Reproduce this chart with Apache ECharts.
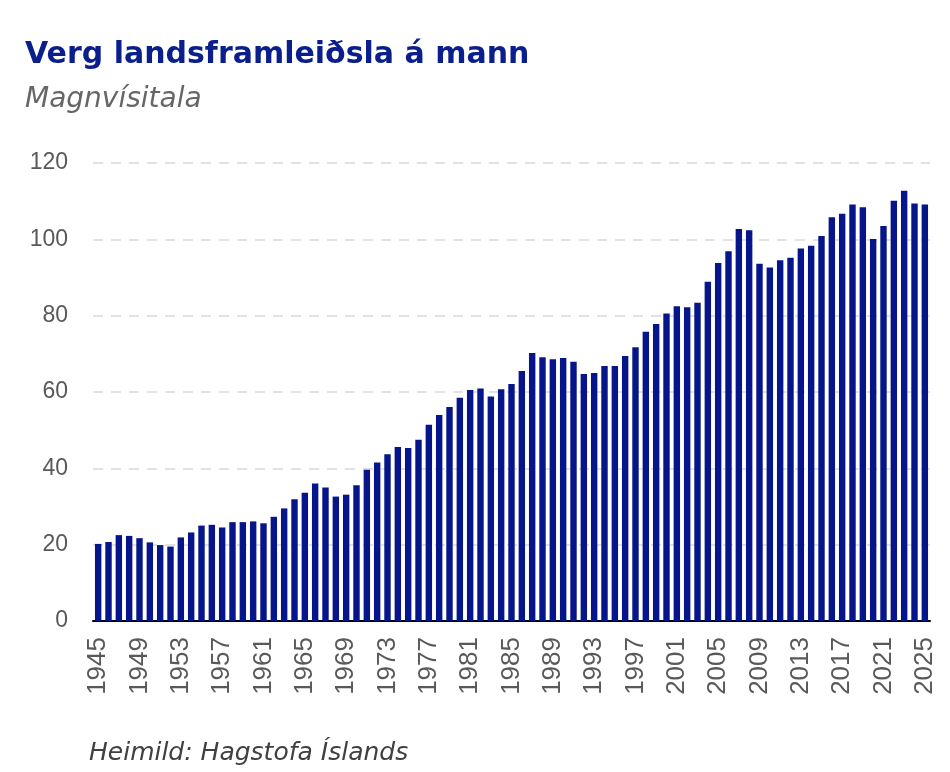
<!DOCTYPE html>
<html>
<head>
<meta charset="utf-8">
<script src="https://cdn.jsdelivr.net/npm/echarts@6/dist/echarts.min.js"></script>
<style>
  html, body { margin: 0; padding: 0; background: #fff; }
  #chart { width: 950px; height: 772px; }
</style>
</head>
<body>
<div id="chart"></div>
<script>
// ár 1945-2025
const years = []
for (let y = 1945; y <= 2025; y++) years.push(String(y))

// magnvísitala, lesin af myndinni
const values = [
  20.2, 20.7, 22.5, 22.3, 21.7, 20.6, 19.9, 19.5, 21.9, 23.2,
  25.0, 25.2, 24.5, 25.9, 25.9, 26.1, 25.6, 27.3, 29.5, 31.9,
  33.6, 36.0, 35.0, 32.6, 33.1, 35.6, 39.6, 41.5, 43.7, 45.6,
  45.3, 47.5, 51.4, 54.0, 56.1, 58.5, 60.5, 60.9, 58.8, 60.7,
  62.1, 65.5, 70.2, 69.1, 68.6, 68.9, 67.9, 64.7, 65.0, 66.8,
  66.8, 69.4, 71.7, 75.8, 77.8, 80.6, 82.5, 82.2, 83.4, 88.9,
  93.8, 96.9, 102.7, 102.4, 93.6, 92.6, 94.5, 95.2, 97.6, 98.3,
  100.9, 105.8, 106.7, 109.1, 108.4, 100.1, 103.5, 110.1, 112.7, 109.4,
  109.1
]

const chart = echarts.init(document.getElementById('chart'))
const option = {
  animation: false,
  textStyle: { fontFamily: 'Liberation Sans' },
  title: [
    {
      text: 'Verg landsframleiðsla á mann',
      left: 20,
      top: 35,
      textStyle: { fontSize: 30, fontWeight: 'bold', color: '#0b1f8c', fontFamily: 'DejaVu Sans' }
    },
    {
      text: 'Magnvísitala',
      left: 20,
      top: 81,
      textStyle: { fontSize: 28, fontWeight: 'normal', fontStyle: 'italic', color: '#666666', fontFamily: 'DejaVu Sans' }
    },
    {
      text: 'Heimild: Hagstofa Íslands',
      left: 84,
      top: 736,
      textStyle: { fontSize: 25, fontWeight: 'normal', fontStyle: 'italic', color: '#404040', fontFamily: 'DejaVu Sans' }
    }
  ],
  grid: { left: 93, right: 20, top: 163, bottom: 151, containLabel: false },
  xAxis: {
    type: 'category',
    data: years,
    axisLine: { lineStyle: { color: '#000', width: 2 } },
    axisTick: { show: false },
    axisLabel: {
      interval: 3,
      rotate: 90,
      fontSize: 26,
      color: '#595959',
      margin: 16,
      fontFamily: 'Liberation Sans'
    }
  },
  yAxis: {
    type: 'value',
    min: 0,
    max: 120,
    interval: 20,
    axisLine: { show: false },
    axisTick: { show: false },
    axisLabel: { fontSize: 23, color: '#595959', margin: 25, fontFamily: 'Liberation Sans' },
    splitLine: { lineStyle: { color: '#d9d9d9', type: [10, 8], width: 1.5 } }
  },
  series: [
    {
      type: 'bar',
      data: values,
      barCategoryGap: '38%',
      itemStyle: { color: '#06168a' }
    }
  ]
}
chart.setOption(option)
</script>
</body>
</html>
